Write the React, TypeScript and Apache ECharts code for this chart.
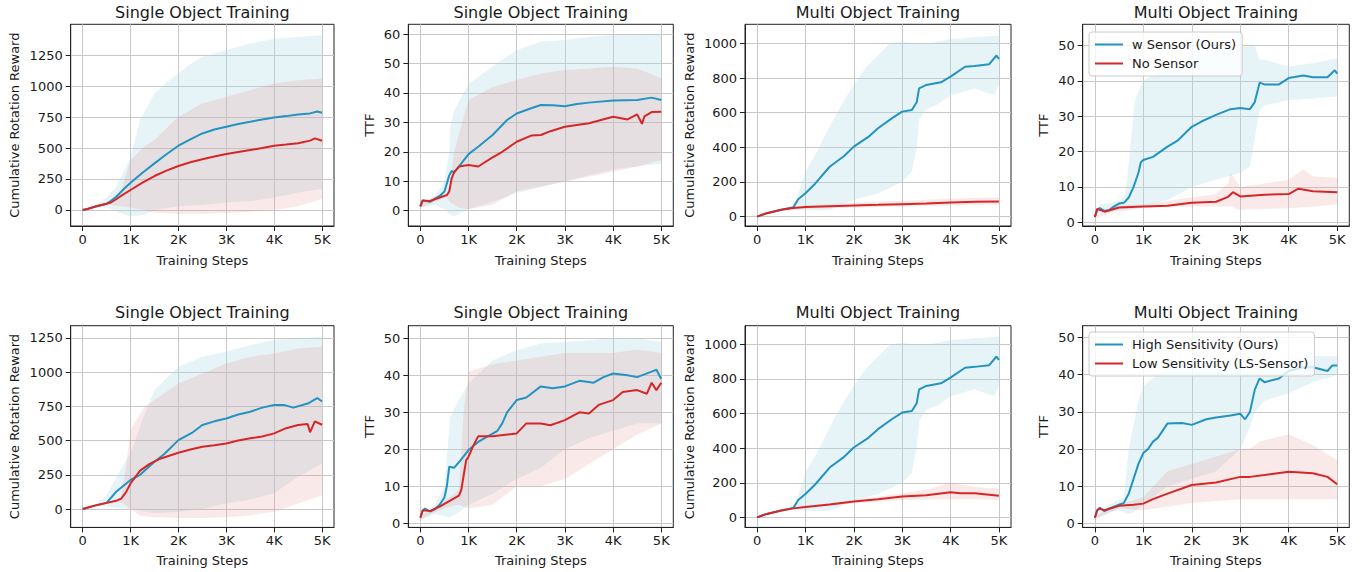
import React, { useEffect, useRef } from 'react';
import * as echarts from 'echarts';

type P = [number, number][];

// ---------- tick values ----------
const X_TICKS = [0, 1000, 2000, 3000, 4000, 5000];
const CRR_SINGLE_TICKS = [0, 250, 500, 750, 1000, 1250];
const CRR_MULTI_TICKS = [0, 200, 400, 600, 800, 1000];
const TTF60_TICKS = [0, 10, 20, 30, 40, 50, 60];
const TTF50_TICKS = [0, 10, 20, 30, 40, 50];

const TOP_NAMES = ['w Sensor (Ours)', 'No Sensor'];
const BOTTOM_NAMES = ['High Sensitivity (Ours)', 'Low Sensitivity (LS-Sensor)'];
const TITLES = [
  'Single Object Training', 'Single Object Training', 'Multi Object Training', 'Multi Object Training',
  'Single Object Training', 'Single Object Training', 'Multi Object Training', 'Multi Object Training',
];
const Y_NAMES = [
  'Cumulative Rotation Reward', 'TTF', 'Cumulative Rotation Reward', 'TTF',
  'Cumulative Rotation Reward', 'TTF', 'Cumulative Rotation Reward', 'TTF',
];
const X_NAME = 'Training Steps';

// ---------- panel 1 ----------
const p1Blue: P = [[0,0],[100,8],[250,25],[500,50],[600,75],[700,107],[850,165],[1000,220],[1250,300],[1500,376],[1750,450],[2000,519],[2250,570],[2500,618],[2750,650],[3000,672],[3250,695],[3500,712],[3750,730],[4000,747],[4250,758],[4500,771],[4750,780],[4900,795],[5000,785]];
const p1Red: P = [[0,0],[100,8],[250,25],[500,50],[600,62],[700,86],[850,125],[1000,161],[1250,220],[1500,274],[1750,318],[2000,355],[2250,385],[2500,409],[2750,432],[3000,452],[3250,468],[3500,484],[3750,500],[4000,519],[4250,528],[4500,538],[4750,560],[4850,578],[5000,559]];
const p1BlueHi: P = [[0,0],[250,30],[500,100],[700,188],[850,300],[1000,430],[1200,726],[1500,941],[1750,1030],[2000,1102],[2250,1180],[2500,1237],[3000,1290],[3500,1344],[4000,1384],[4500,1398],[5000,1411]];
const p1BlueLo: P = [[0,0],[250,20],[500,20],[650,0],[800,-27],[1000,-54],[1300,-40],[1500,0],[2000,30],[2500,40],[3000,60],[3500,70],[4000,100],[4500,140],[5000,170]];
const p1RedHi: P = [[0,0],[250,28],[500,55],[600,80],[800,150],[1000,403],[1250,500],[1500,565],[2000,753],[2500,860],[3000,914],[3500,968],[4000,1022],[4500,1048],[5000,1062]];
const p1RedLo: P = [[0,0],[250,22],[500,45],[600,40],[800,30],[1000,20],[1500,-20],[2000,-30],[2500,-30],[3000,-25],[3500,-15],[4000,0],[4500,30],[5000,90]];

// ---------- panel 2 ----------
const p2Blue: P = [[0,1.5],[50,3.5],[200,3],[400,5],[500,6.5],[600,12],[650,13.5],[700,13],[800,15],[1000,19.2],[1200,21.7],[1500,25.7],[1800,30.8],[2000,33],[2300,34.8],[2500,35.9],[2750,35.8],[3000,35.5],[3250,36.2],[3500,36.7],[4000,37.4],[4500,37.6],[4800,38.4],[5000,37.6]];
const p2Red: P = [[0,1.5],[50,3.5],[200,3.3],[400,4.5],[550,5.3],[600,6.5],[650,11],[700,13],[800,15],[1000,15.5],[1200,15],[1500,18.1],[1700,20],[2000,23.4],[2300,25.5],[2500,25.7],[2700,27],[3000,28.5],[3500,29.7],[4000,31.9],[4300,31],[4500,32.7],[4600,29.5],[4650,32],[4800,33.5],[5000,33.6]];
const p2BlueHi: P = [[0,2],[300,5],[500,10],[600,20],[620,28.5],[700,34],[1000,43],[1500,49],[2000,54.6],[2500,57.4],[3000,58],[3500,59],[4000,59.7],[4500,59.7],[5000,60.2]];
const p2BlueLo: P = [[0,1],[300,2],[500,0.5],[600,-1],[700,-2],[800,-1],[1000,0.5],[1500,3],[2000,6],[3000,10],[4000,14],[4500,15],[5000,16]];
const p2RedHi: P = [[0,2],[300,4.5],[550,6],[600,8],[700,20],[1000,37.6],[1500,42],[2000,44.4],[2500,46.6],[3000,47.8],[3500,48.3],[4000,48.9],[4500,48.3],[5000,45]];
const p2RedLo: P = [[0,1],[300,3],[550,4.5],[600,3],[800,1],[1000,0.5],[1500,2],[2000,6.5],[2500,8.2],[3000,9.8],[3500,11.5],[4000,13.2],[4500,15],[5000,17.2]];

// ---------- panel 3 ----------
const p3Blue: P = [[0,0],[200,20],[500,40],[750,55],[850,100],[1000,135],[1200,190],[1500,288],[1800,350],[2000,404],[2300,460],[2500,510],[2800,570],[3000,606],[3200,615],[3300,660],[3350,740],[3500,760],[3800,775],[4000,808],[4300,865],[4500,870],[4800,880],[4950,930],[5000,910]];
const p3Red: P = [[0,0],[200,20],[500,40],[750,50],[1000,55],[1500,60],[2000,65],[2500,68],[3000,72],[3500,76],[4000,82],[4500,86],[5000,88]];
const p3BlueHi: P = [[0,0],[500,42],[750,55],[850,130],[1000,260],[1250,380],[1500,520],[1750,650],[2000,760],[2250,860],[2500,930],[2750,1000],[3000,1010],[3250,1000],[3500,1000],[3750,1010],[4000,1025],[4250,1030],[4500,1035],[4750,1040],[5000,1045]];
const p3BlueLo: P = [[0,0],[500,38],[750,50],[1000,35],[1500,38],[2000,96],[2500,135],[3000,200],[3200,260],[3300,400],[3350,560],[3500,620],[3750,650],[4000,700],[4500,740],[4900,700],[5000,760]];
const p3RedHi: P = [[0,0],[500,45],[1000,65],[2000,80],[3000,90],[4000,105],[5000,112]];
const p3RedLo: P = [[0,0],[500,35],[1000,45],[2000,52],[3000,58],[4000,65],[5000,70]];

// ---------- panel 4 ----------
const p4Blue: P = [[0,1.5],[50,3.5],[100,4],[200,3.2],[300,3.5],[400,4.5],[500,5.3],[600,5.5],[700,7],[800,10],[900,14],[950,17],[1000,17.6],[1200,18.5],[1500,21.4],[1700,23],[2000,27],[2200,28.5],[2500,30.4],[2800,32],[3000,32.3],[3200,32],[3300,34],[3400,39.5],[3500,39],[3800,39],[4000,40.8],[4300,41.5],[4500,41],[4800,41],[4950,43],[5000,42]];
const p4Red: P = [[0,1.5],[50,3.8],[200,3],[500,4.2],[1000,4.5],[1500,4.7],[2000,5.5],[2500,5.8],[2750,7.2],[2850,8.5],[3000,7.3],[3500,7.8],[4000,8],[4200,9.5],[4500,8.8],[5000,8.5]];
const p4BlueHi: P = [[0,2],[100,5],[500,6],[600,7],[650,10],[830,34.6],[930,38],[1000,40],[1500,44],[2000,47],[2500,49],[3000,49.7],[3300,50],[3400,46],[3500,46],[4000,44],[4500,45],[5000,46.4]];
const p4BlueLo: P = [[0,1],[100,3],[500,3],[800,3.5],[1000,4.4],[1500,6.3],[2000,10],[2500,12],[3000,14],[3200,15.8],[3400,31.8],[3500,33],[4000,34.6],[4500,35],[5000,35.6]];
const p4RedHi: P = [[0,2],[500,4.8],[1000,5],[2000,7],[2500,8],[2750,11],[2800,14],[3000,10],[3500,11],[4000,12],[4300,15],[4500,13],[5000,12.5]];
const p4RedLo: P = [[0,1],[500,3.6],[1000,4],[2000,4.5],[2800,4.5],[3000,3.5],[3500,3.8],[4000,4],[4500,4.5],[5000,5]];

// ---------- panel 5 ----------
const p5Blue: P = [[0,0],[250,25],[500,45],[700,126],[1000,212],[1200,250],[1500,345],[1700,400],[2000,503],[2300,560],[2500,613],[2750,640],[3000,661],[3250,690],[3500,710],[3750,740],[4000,759],[4200,760],[4400,740],[4700,770],[4900,810],[5000,785]];
const p5Red: P = [[0,0],[250,25],[500,45],[700,60],[800,75],[900,120],[1000,187],[1200,280],[1400,330],[1600,365],[2000,411],[2250,435],[2500,455],[2750,465],[3000,479],[3250,500],[3500,516],[3750,530],[4000,552],[4250,590],[4500,613],[4700,620],[4750,560],[4850,640],[5000,615]];
const p5BlueHi: P = [[0,0],[250,30],[500,100],[700,230],[1000,406],[1250,650],[1500,868],[2000,1038],[2500,1111],[3000,1148],[3500,1196],[4000,1233],[4500,1245],[5000,1257]];
const p5BlueLo: P = [[0,0],[250,20],[500,20],[700,10],[900,5],[1000,0],[1500,-30],[2000,-20],[2500,0],[3000,40],[3500,70],[4000,115],[4500,236],[5000,333]];
const p5RedHi: P = [[0,0],[250,28],[500,50],[800,80],[900,300],[1000,576],[1300,750],[1500,795],[2000,917],[2500,990],[3000,1063],[3500,1111],[4000,1136],[4500,1172],[5000,1184]];
const p5RedLo: P = [[0,0],[250,22],[500,40],[800,50],[1000,0],[1200,-50],[1500,-60],[2000,-65],[2500,-65],[3000,-60],[3500,-45],[4000,-20],[4500,40],[5000,100]];

// ---------- panel 6 ----------
const p6Blue: P = [[0,1.5],[50,3.5],[100,4],[200,3.2],[300,3.8],[400,5],[500,7],[550,10],[600,15.3],[700,15],[800,16.5],[1000,19.8],[1200,22],[1400,23.5],[1600,25],[1700,27],[1800,30],[2000,33.3],[2200,34],[2500,37],[2750,36.5],[3000,37],[3300,38.5],[3600,38],[3800,39.5],[4000,40.5],[4300,40],[4500,39.5],[4800,41],[4900,41.5],[5000,39]];
const p6Red: P = [[0,1.5],[50,3.5],[200,3.3],[400,4.5],[600,6],[800,7.5],[850,9],[900,13],[950,17],[1000,18],[1100,21],[1200,23.5],[1500,23.5],[2000,24.3],[2200,27],[2500,27],[2700,26.5],[3000,27.9],[3300,30],[3500,29.7],[3700,32],[4000,33.3],[4200,35.5],[4500,36],[4700,35],[4800,38],[4900,36],[5000,38]];
const p6BlueHi: P = [[0,2],[300,5],[500,10],[620,28.8],[800,33.3],[1000,37.8],[1500,44],[2000,46.8],[2500,48.6],[3000,49],[3500,49.5],[4000,50],[4500,50],[5000,49]];
const p6BlueLo: P = [[0,1],[300,2.5],[500,2],[600,1.5],[800,3],[1000,5],[1500,8],[2000,12],[2500,15],[3000,20],[3500,23],[4000,25],[4500,27],[5000,27]];
const p6RedHi: P = [[0,2],[300,4.5],[600,7],[800,9],[900,30],[1000,41],[1500,43],[2000,44],[2500,45],[3000,46],[3500,46],[4000,46],[4500,47],[5000,46]];
const p6RedLo: P = [[0,1],[300,3],[600,4.5],[800,5],[1000,4],[1500,5],[2000,10],[2500,10],[3000,12],[3500,16],[4000,20],[4500,24],[5000,27]];

// ---------- panel 7 ----------
const p7Blue: P = [[0,0],[200,20],[500,40],[750,55],[850,100],[1000,135],[1200,190],[1500,288],[1800,350],[2000,404],[2300,460],[2500,510],[2800,570],[3000,606],[3200,615],[3300,660],[3350,740],[3500,760],[3800,775],[4000,808],[4300,865],[4500,870],[4800,880],[4950,930],[5000,910]];
const p7Red: P = [[0,0],[200,20],[500,40],[750,52],[1000,60],[1500,75],[2000,92],[2500,105],[3000,120],[3500,128],[4000,145],[4200,140],[4500,140],[5000,125]];
const p7BlueHi: P = [[0,0],[500,42],[750,55],[850,130],[1000,260],[1250,380],[1500,520],[1750,650],[2000,760],[2250,860],[2500,930],[2750,1000],[3000,1010],[3250,1000],[3500,1000],[3750,1010],[4000,1025],[4250,1030],[4500,1035],[4750,1040],[5000,1045]];
const p7BlueLo: P = [[0,0],[500,38],[750,50],[1000,35],[1500,38],[2000,96],[2500,135],[3000,200],[3200,260],[3300,400],[3350,560],[3500,620],[3750,650],[4000,700],[4500,740],[4900,700],[5000,760]];
const p7RedHi: P = [[0,0],[500,45],[1000,65],[2000,100],[3000,140],[3500,160],[4000,200],[4500,175],[5000,165]];
const p7RedLo: P = [[0,0],[500,35],[1000,55],[2000,82],[3000,100],[4000,105],[4500,105],[5000,100]];

// ---------- panel 8 ----------
const p8Blue: P = [[0,1.5],[50,3.5],[100,4.2],[200,3.3],[300,4],[500,5],[600,5.5],[700,8],[800,12],[900,16],[1000,18.9],[1100,20],[1200,22],[1300,23],[1500,26.9],[1800,27],[2000,26.5],[2300,28],[2500,28.5],[2800,29],[3000,29.5],[3100,28],[3200,30],[3300,36],[3400,39],[3500,38],[3800,39],[4000,41],[4300,42],[4500,42],[4800,41],[4900,42.5],[5000,42.5]];
const p8Red: P = [[0,1.5],[50,3.5],[100,4],[200,3.5],[500,4.7],[800,5],[1000,5.3],[1200,6.5],[1500,8],[2000,10.3],[2500,11],[3000,12.5],[3200,12.5],[3500,13],[4000,13.9],[4500,13.5],[4800,12.5],[5000,10.5]];
const p8BlueHi: P = [[0,2],[300,5],[600,7],[700,20],[900,33],[1000,37],[1500,42],[2000,43],[2500,44],[3000,45],[3300,45],[3500,44],[4000,44],[4500,45],[5000,45]];
const p8BlueLo: P = [[0,1],[300,3],[500,3.5],[600,3],[700,2.5],[800,3],[1000,5],[1500,10],[2000,12],[2500,14],[3000,20],[3200,26],[3300,30],[3500,33],[4000,35],[4500,38],[5000,40]];
const p8RedHi: P = [[0,2],[500,5],[1000,7],[1500,14],[2000,16],[2500,18],[3000,20],[3200,20],[3400,22],[4000,24],[4500,21],[5000,17]];
const p8RedLo: P = [[0,1],[500,4],[1000,3.5],[1500,4.5],[2000,5.5],[2500,6],[3000,6.5],[4000,6.5],[5000,6.5]];

// ---------- layout / styles ----------
const FONT = 'DejaVu Sans';
const TEXT = '#1a1a1a';
const BLUE = '#2394c1';
const RED = '#d62728';
const BLUE_BAND = 'rgba(173,216,230,0.3)';
const RED_BAND = 'rgba(232,145,145,0.2)';

const LEFTS = [70.7, 408.3, 745, 1082.7];
const WIDTHS = [263.3, 265, 266, 266.6];
const TOPS = [24.3, 325.7];
const HEIGHT = 201.7;
const YNAME_X = [14, 369.3, 689.3, 1043.3];
const XNAME_Y = [260, 560.5];
const TITLE_Y = [12.5, 312.5];

const PANELS = [
  { blue: p1Blue, red: p1Red, bh: p1BlueHi, bl: p1BlueLo, rh: p1RedHi, rl: p1RedLo, ymin: -130, ymax: 1500, yt: CRR_SINGLE_TICKS },
  { blue: p2Blue, red: p2Red, bh: p2BlueHi, bl: p2BlueLo, rh: p2RedHi, rl: p2RedLo, ymin: -5.2, ymax: 63.3, yt: TTF60_TICKS },
  { blue: p3Blue, red: p3Red, bh: p3BlueHi, bl: p3BlueLo, rh: p3RedHi, rl: p3RedLo, ymin: -54, ymax: 1110, yt: CRR_MULTI_TICKS },
  { blue: p4Blue, red: p4Red, bh: p4BlueHi, bl: p4BlueLo, rh: p4RedHi, rl: p4RedLo, ymin: -1.05, ymax: 56, yt: TTF50_TICKS },
  { blue: p5Blue, red: p5Red, bh: p5BlueHi, bl: p5BlueLo, rh: p5RedHi, rl: p5RedLo, ymin: -134, ymax: 1338, yt: CRR_SINGLE_TICKS },
  { blue: p6Blue, red: p6Red, bh: p6BlueHi, bl: p6BlueLo, rh: p6RedHi, rl: p6RedLo, ymin: -1.1, ymax: 53.4, yt: TTF50_TICKS },
  { blue: p7Blue, red: p7Red, bh: p7BlueHi, bl: p7BlueLo, rh: p7RedHi, rl: p7RedLo, ymin: -58, ymax: 1108, yt: CRR_MULTI_TICKS },
  { blue: p8Blue, red: p8Red, bh: p8BlueHi, bl: p8BlueLo, rh: p8RedHi, rl: p8RedLo, ymin: -1.1, ymax: 53.2, yt: TTF50_TICKS },
];

function bandSeries(i: number, hi: P, lo: P, fill: string, id: string) {
  return {
    type: 'custom',
    name: id,
    xAxisIndex: i,
    yAxisIndex: i,
    silent: true,
    clip: true,
    data: [[0, 0]],
    renderItem: (_params: any, api: any) => {
      const pts = hi.map((p) => api.coord(p)).concat(lo.slice().reverse().map((p) => api.coord(p)));
      return { type: 'polygon', shape: { points: pts }, style: { fill, stroke: 'none' }, silent: true };
    },
  };
}

function textEl(text: string, x: number, y: number, size: number, rotation = 0) {
  return {
    type: 'text', x, y, rotation, silent: true,
    style: { text, fill: TEXT, font: `normal ${size}px "${FONT}"`, textAlign: 'center', textVerticalAlign: 'middle', align: 'center', verticalAlign: 'middle' },
  };
}

function buildOption() {
  const grid: any[] = [];
  const xAxis: any[] = [];
  const yAxis: any[] = [];
  const series: any[] = [];
  const graphic: any[] = [];

  PANELS.forEach((p, i) => {
    const col = i % 4;
    const row = Math.floor(i / 4);
    const left = LEFTS[col];
    const top = TOPS[row];
    grid.push({ left, top, width: WIDTHS[col], height: HEIGHT, show: true, borderColor: '#222', borderWidth: 1, backgroundColor: 'transparent', containLabel: false });
    xAxis.push({
      type: 'value', gridIndex: i, min: -250, max: 5250,
      axisLine: { show: true, onZero: false, lineStyle: { color: '#222', width: 1 } },
      axisTick: { show: true, customValues: X_TICKS, length: 5, inside: false, lineStyle: { color: '#222', width: 1 } },
      axisLabel: { customValues: X_TICKS, margin: 7, fontFamily: FONT, fontSize: 13, color: TEXT, formatter: (v: number) => (v === 0 ? '0' : v / 1000 + 'K') },
      splitLine: { show: true, lineStyle: { color: '#c8c8c8', width: 1 } },
    });
    yAxis.push({
      type: 'value', gridIndex: i, min: p.ymin, max: p.ymax,
      axisLine: { show: true, onZero: false, lineStyle: { color: '#222', width: 1 } },
      axisTick: { show: true, customValues: p.yt, length: 5, inside: false, lineStyle: { color: '#222', width: 1 } },
      axisLabel: { customValues: p.yt, margin: 8, fontFamily: FONT, fontSize: 13, color: TEXT, formatter: (v: number) => String(v) },
      splitLine: { show: true, lineStyle: { color: '#c8c8c8', width: 1 } },
    });
    const names = row === 0 ? TOP_NAMES : BOTTOM_NAMES;
    series.push(bandSeries(i, p.bh, p.bl, BLUE_BAND, 'bandB' + i));
    series.push(bandSeries(i, p.rh, p.rl, RED_BAND, 'bandR' + i));
    series.push({ type: 'line', name: names[0], xAxisIndex: i, yAxisIndex: i, data: p.blue, showSymbol: false, symbol: 'none', clip: true, lineStyle: { color: BLUE, width: 2 }, itemStyle: { color: BLUE }, z: 3 });
    series.push({ type: 'line', name: names[1], xAxisIndex: i, yAxisIndex: i, data: p.red, showSymbol: false, symbol: 'none', clip: true, lineStyle: { color: RED, width: 2 }, itemStyle: { color: RED }, z: 4 });
    const cx = left + WIDTHS[col] / 2;
    graphic.push(textEl(TITLES[i], cx, TITLE_Y[row], 16));
    graphic.push(textEl(X_NAME, cx, XNAME_Y[row], 13));
    graphic.push(textEl(Y_NAMES[i], YNAME_X[col], top + HEIGHT / 2, 13, Math.PI / 2));
  });

  const legendCommon = {
    orient: 'vertical', itemWidth: 28, itemHeight: 2, icon: 'rect', itemGap: 4,
    padding: [5, 6, 5, 6], backgroundColor: 'rgba(255,255,255,0.8)', borderColor: '#cccccc', borderWidth: 1, borderRadius: 3,
    selectedMode: false,
    textStyle: { fontFamily: FONT, fontSize: 13, color: TEXT, lineHeight: 15, padding: [0, 0, 0, 4] },
  };

  return {
    animation: false,
    backgroundColor: '#ffffff',
    grid, xAxis, yAxis, series, graphic,
    legend: [
      { ...legendCommon, data: TOP_NAMES, left: 1089, top: 32 },
      { ...legendCommon, data: BOTTOM_NAMES, left: 1089, top: 332 },
    ],
  };
}

export default function App() {
  const ref = useRef<HTMLDivElement>(null);
  useEffect(() => {
    document.body.style.margin = '0';
    if (!ref.current) return;
    const chart = echarts.init(ref.current, undefined, { renderer: 'svg' });
    chart.setOption(buildOption() as any);
    return () => chart.dispose();
  }, []);
  return <div ref={ref} style={{ position: 'absolute', left: 0, top: 0, width: 1367, height: 572 }} />;
}
